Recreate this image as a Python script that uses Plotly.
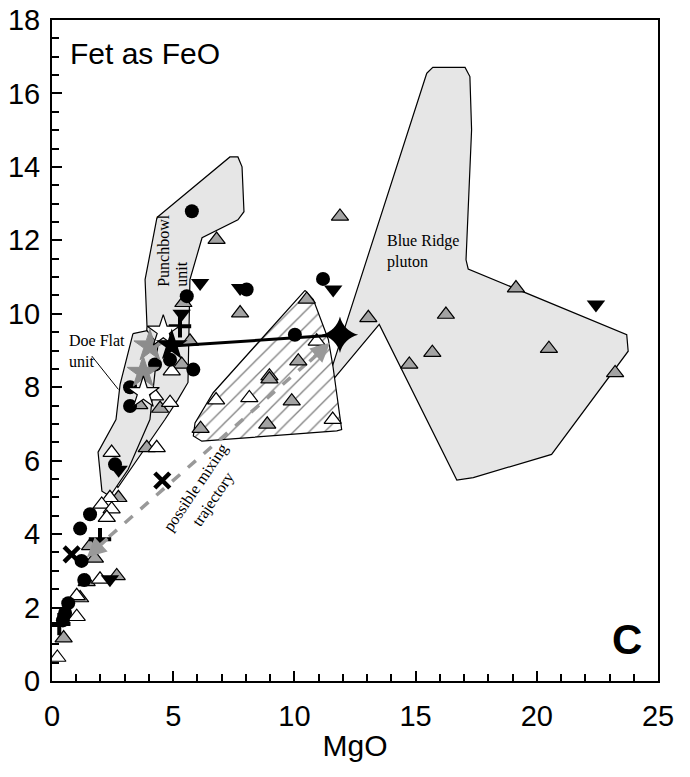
import plotly.graph_objects as go

# ---------------- data ----------------
# polygons (MgO, FeO)
punch_x = [4.33, 7.34, 7.67, 7.84, 7.92, 7.67, 6.19, 5.69, 5.61, 5.20, 4.66, 3.42, 2.72, 2.48, 3.63, 3.92, 3.84, 4.33]
punch_y = [12.62, 14.27, 14.27, 14.00, 12.78, 12.56, 12.07, 10.93, 8.13, 7.67, 7.12, 5.95, 5.27, 5.49, 7.12, 9.65, 10.93, 12.62]
doe_x = [3.34, 3.92, 4.37, 4.04, 3.14, 2.39, 2.06, 1.90, 2.64, 2.81, 3.34]
doe_y = [9.46, 9.54, 9.16, 7.12, 5.76, 5.03, 5.17, 6.23, 7.12, 8.08, 9.46]
blue_x = [15.46, 15.71, 17.04, 17.24, 17.31, 17.08, 17.17, 23.71, 23.77, 20.61, 17.38, 16.70, 13.50, 11.26, 15.46]
blue_y = [16.55, 16.71, 16.71, 16.46, 15.01, 11.47, 11.22, 9.43, 8.98, 6.17, 5.54, 5.47, 9.71, 7.94, 16.55]
hatch_x = [10.44, 10.78, 11.40, 11.59, 11.95, 11.75, 6.18, 5.83, 5.90, 6.65, 10.44]
hatch_y = [10.64, 10.39, 9.30, 8.57, 6.85, 6.81, 6.53, 6.67, 7.03, 7.85, 10.64]

gray_tri_x = [11.88, 13.05, 16.25, 19.14, 15.69, 14.74, 20.50, 23.23, 10.51, 7.76, 10.16, 8.97, 8.97, 9.89, 8.88, 6.13,
              6.79, 5.42, 5.69, 5.35, 4.46, 3.60, 3.91, 2.74, 1.57, 1.77, 1.43, 2.67, 1.16, 0.48]
gray_tri_y = [12.65, 9.89, 9.98, 10.70, 8.94, 8.62, 9.05, 8.39, 10.39, 10.02, 8.71, 8.30, 8.22, 7.62, 6.99, 6.87,
              12.02, 10.30, 9.25, 8.62, 7.42, 7.52, 6.35, 4.99, 3.68, 3.34, 2.70, 2.86, 2.26, 1.17]
white_tri_x = [6.77, 8.14, 11.58, 10.92, 4.94, 4.25, 4.87, 4.32, 2.46, 2.39, 2.05, 2.46, 2.26, 1.98, 1.02, 1.02, 0.22]
white_tri_y = [7.65, 7.71, 7.12, 9.25, 8.44, 7.76, 7.58, 6.35, 6.22, 4.99, 4.81, 4.68, 4.45, 2.77, 2.32, 1.75, 0.64]
circle_x = [5.77, 8.03, 5.56, 5.83, 4.87, 4.25, 3.22, 3.22, 10.02, 11.18, 1.57, 1.16, 1.22, 1.33, 0.67, 0.54, 0.45, 2.60]
circle_y = [12.79, 10.66, 10.48, 8.48, 8.75, 8.62, 8.00, 7.49, 9.43, 10.95, 4.54, 4.15, 3.27, 2.75, 2.12, 1.85, 1.65, 5.90]
down_tri_x = [7.76, 6.11, 5.35, 11.60, 22.44, 2.75, 2.39]
down_tri_y = [10.70, 10.84, 10.00, 10.66, 10.25, 5.75, 2.77]
plus_x = [5.28, 1.98, 0.30]
plus_y = [9.66, 3.86, 1.55]
xmark_x = [4.55, 0.81]
xmark_y = [5.46, 3.45]
white_star_x = [4.59, 3.77]
white_star_y = [9.52, 7.85]
gray_star_x = [4.04, 3.76]
gray_star_y = [9.12, 8.40]
black_star_x = [4.94]
black_star_y = [9.14]
tie_x = [4.94, 11.88]
tie_y = [9.12, 9.43]
mix_x = [1.70, 11.20]
mix_y = [3.55, 9.05]
mix_tips_x = [11.47, 1.44]
mix_tips_y = [9.21, 3.37]

x_ticks = [0, 5, 10, 15, 20, 25]
y_ticks = [0, 2, 4, 6, 8, 10, 12, 14, 16, 18]

# ---------------- figure ----------------
fig = go.Figure()
poly_fill = "#e6e6e6"
for px, py in [(blue_x, blue_y), (punch_x, punch_y), (doe_x, doe_y)]:
    fig.add_trace(go.Scatter(x=px, y=py, mode="lines", fill="toself", fillcolor=poly_fill,
                             line=dict(color="black", width=1.2), hoverinfo="skip"))
fig.add_trace(go.Scatter(x=hatch_x, y=hatch_y, mode="lines", fill="toself", fillcolor="white",
                         fillpattern=dict(shape="/", fgcolor="black", bgcolor="white", size=11, solidity=0.12),
                         line=dict(color="black", width=1.2), hoverinfo="skip"))

# mixing trajectory (dashed gray)
fig.add_trace(go.Scatter(x=mix_x, y=mix_y, mode="lines",
                         line=dict(color="#999999", width=3.5, dash="dash"), hoverinfo="skip"))

gray = "#a3a3a3"
fig.add_trace(go.Scatter(x=gray_tri_x, y=gray_tri_y, mode="markers",
                         marker=dict(symbol="triangle-up", size=15, color=gray, line=dict(color="black", width=1.2))))
fig.add_trace(go.Scatter(x=white_tri_x, y=white_tri_y, mode="markers",
                         marker=dict(symbol="triangle-up", size=15, color="white", line=dict(color="black", width=1.2))))
fig.add_trace(go.Scatter(x=circle_x, y=circle_y, mode="markers",
                         marker=dict(symbol="circle", size=14, color="black", line=dict(width=0))))
fig.add_trace(go.Scatter(x=down_tri_x, y=down_tri_y, mode="markers",
                         marker=dict(symbol="triangle-down", size=16, color="black", line=dict(width=0))))
fig.add_trace(go.Scatter(x=plus_x, y=plus_y, mode="markers",
                         marker=dict(symbol="cross-thin-open", size=16, color="black", line=dict(color="black", width=4))))
fig.add_trace(go.Scatter(x=xmark_x, y=xmark_y, mode="markers",
                         marker=dict(symbol="x-thin-open", size=15, color="black", line=dict(color="black", width=4.5))))
fig.add_trace(go.Scatter(x=gray_star_x, y=gray_star_y, mode="markers",
                         marker=dict(symbol="star", size=24, color="#8c8c8c", line=dict(color="#8c8c8c", width=1))))
fig.add_trace(go.Scatter(x=white_star_x, y=white_star_y, mode="markers",
                         marker=dict(symbol="star", size=24, color="white", line=dict(color="black", width=1.2))))
# tie line
fig.add_trace(go.Scatter(x=tie_x, y=tie_y, mode="lines", line=dict(color="black", width=3), hoverinfo="skip"))
fig.add_trace(go.Scatter(x=black_star_x, y=black_star_y, mode="markers",
                         marker=dict(symbol="star", size=24, color="black")))
fig.add_trace(go.Scatter(x=[tie_x[-1]], y=[tie_y[-1]], mode="markers",
                         marker=dict(symbol="star-diamond", size=26, color="black")))

# arrow heads of the mixing trajectory
fig.add_annotation(x=mix_tips_x[0], y=mix_tips_y[0], ax=-22, ay=20, text="", showarrow=True,
                   arrowhead=2, arrowsize=1.1, arrowwidth=3.5, arrowcolor="#999999")
fig.add_annotation(x=mix_tips_x[1], y=mix_tips_y[1], ax=22, ay=-20, text="", showarrow=True,
                   arrowhead=2, arrowsize=1.1, arrowwidth=3.5, arrowcolor="#999999")

serif = "Liberation Serif, Times New Roman, serif"
sans = "Liberation Sans, Arial, sans-serif"
lab = dict(family=serif, size=16, color="black")
fig.add_annotation(x=4.62, y=11.74, text="Punchbowl", textangle=-90, showarrow=False, font=lab)
fig.add_annotation(x=5.33, y=11.07, text="unit", textangle=-90, showarrow=False, font=lab)
fig.add_annotation(x=0.62, y=9.0, text="Doe Flat<br>unit", align="left", xanchor="left", yanchor="middle",
                   showarrow=False, font=lab)
fig.add_shape(type="line", x0=1.64, y0=8.85, x1=2.74, y1=7.94, line=dict(color="black", width=1))
fig.add_annotation(x=13.74, y=11.69, text="Blue Ridge<br>pluton", align="left", xanchor="left", yanchor="middle",
                   showarrow=False, font=lab)
fig.add_annotation(x=6.3, y=5.1, text="possible mixing<br>trajectory", textangle=-56, showarrow=False, font=lab)
fig.add_annotation(x=0.67, y=17.1, text="Fet as FeO", xanchor="left", yanchor="middle", showarrow=False,
                   font=dict(family=sans, size=30, color="black"))
fig.add_annotation(x=23.74, y=1.14, text="<b>C</b>", showarrow=False,
                   font=dict(family=sans, size=42, color="black"))

fig.update_layout(
    width=690, height=777, showlegend=False,
    paper_bgcolor="white", plot_bgcolor="white",
    margin=dict(l=52, r=32, t=20, b=96, autoexpand=False),
    font=dict(family=sans, color="black"),
)
fig.update_xaxes(range=[0, 25], tickvals=x_ticks, ticks="inside", ticklen=10, tickwidth=1.5, tickcolor="black",
                 showline=True, linewidth=2, linecolor="black", mirror=True, showgrid=False, zeroline=False,
                 automargin=False,
                 minor=dict(dtick=1, ticks="inside", ticklen=7, tickwidth=1.5, tickcolor="black", showgrid=False),
                 tickfont=dict(size=29, family=sans), ticklabelstandoff=8,
                 title=dict(text="MgO", font=dict(size=30, family=sans), standoff=4))
fig.update_yaxes(range=[0, 18], tickvals=y_ticks, ticks="inside", ticklen=10, tickwidth=1.5, tickcolor="black",
                 showline=True, linewidth=2, linecolor="black", mirror=True, showgrid=False, zeroline=False,
                 automargin=False,
                 minor=dict(dtick=0.5, ticks="inside", ticklen=7, tickwidth=1.5, tickcolor="black", showgrid=False),
                 tickfont=dict(size=29, family=sans), ticklabelstandoff=4)

fig.write_html("out.html")
